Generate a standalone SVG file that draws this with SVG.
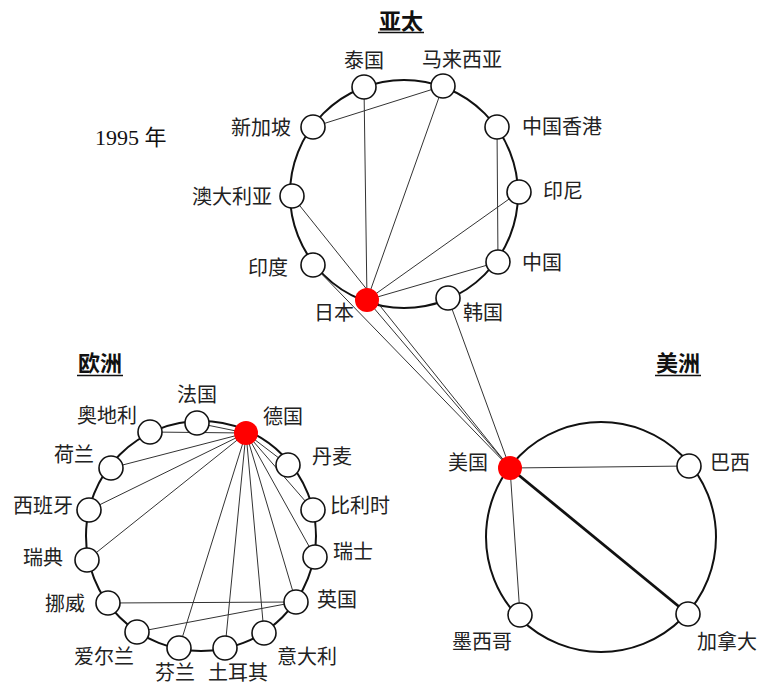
<svg xmlns="http://www.w3.org/2000/svg" width="759" height="688" viewBox="0 0 759 688">
<style>
.ring{fill:none;stroke:#111;stroke-width:2}
.e{stroke:#333;stroke-width:1;fill:none}
.thick{stroke:#111;stroke-width:2.8}
.n{fill:#fff;stroke:#111;stroke-width:1.6}
.hub{fill:#ff0000;stroke:none}
.lbl{font-family:"Noto Sans CJK SC","Noto Sans",sans-serif;font-size:20px;fill:#222;text-anchor:middle}
.title{font-family:"Noto Sans CJK SC","Noto Sans",sans-serif;font-size:22px;font-weight:bold;fill:#111;text-anchor:middle}
.ul{stroke:#111;stroke-width:1.4}
.year{font-family:"Liberation Serif","Noto Sans CJK SC",serif;font-size:22px;fill:#111}
</style>
<rect width="759" height="688" fill="#fff"/>
<g id="rings">
<circle class="ring" cx="404" cy="194" r="114"/>
<circle class="ring" cx="201" cy="536" r="115"/>
<circle class="ring" cx="601" cy="537" r="115"/>
</g>
<g id="titles">
<text class="title" x="401" y="29">亚太</text><line class="ul" x1="378" y1="32.5" x2="424" y2="32.5"/>
<text class="title" x="100" y="371">欧洲</text><line class="ul" x1="77" y1="375.5" x2="123" y2="375.5"/>
<text class="title" x="678" y="371">美洲</text><line class="ul" x1="655" y1="375.5" x2="701" y2="375.5"/>
<text class="year" x="95" y="145">1995 年</text>
</g>
<g id="connectors">
<line class="e" x1="364" y1="87" x2="367" y2="300"/>
<line class="e" x1="443" y1="86" x2="313" y2="127"/>
<line class="e" x1="443" y1="86" x2="367" y2="300"/>
<line class="e" x1="497" y1="127" x2="498" y2="262"/>
<line class="e" x1="519" y1="192" x2="367" y2="300"/>
<line class="e" x1="498" y1="262" x2="367" y2="300"/>
<line class="e" x1="292" y1="196" x2="510" y2="468"/>
<line class="e" x1="313" y1="265" x2="510" y2="468"/>
<line class="e" x1="367" y1="300" x2="510" y2="468"/>
<line class="e" x1="448" y1="298" x2="510" y2="468"/>
<line class="e" x1="510" y1="468" x2="689" y2="466"/>
<line class="e" x1="510" y1="468" x2="520" y2="615"/>
<line class="e thick" x1="510" y1="468" x2="688" y2="614"/>
<line class="e" x1="246" y1="433" x2="197" y2="423"/>
<line class="e" x1="246" y1="433" x2="150" y2="432"/>
<line class="e" x1="246" y1="433" x2="111" y2="468"/>
<line class="e" x1="246" y1="433" x2="89" y2="510"/>
<line class="e" x1="246" y1="433" x2="87" y2="560"/>
<line class="e" x1="246" y1="433" x2="288" y2="465"/>
<line class="e" x1="246" y1="433" x2="313" y2="510"/>
<line class="e" x1="246" y1="433" x2="315" y2="557"/>
<line class="e" x1="246" y1="433" x2="296" y2="602"/>
<line class="e" x1="246" y1="433" x2="264" y2="633"/>
<line class="e" x1="246" y1="433" x2="225" y2="648"/>
<line class="e" x1="246" y1="433" x2="179" y2="648"/>
<line class="e" x1="108" y1="603" x2="296" y2="602"/>
<line class="e" x1="137" y1="632" x2="296" y2="602"/>
</g>
<g id="n-th"><circle class="n" cx="364" cy="87" r="12"/><text class="lbl" x="364" y="68">泰国</text></g>
<g id="n-my"><circle class="n" cx="443" cy="86" r="12"/><text class="lbl" x="462" y="67">马来西亚</text></g>
<g id="n-sg"><circle class="n" cx="313" cy="127" r="12"/><text class="lbl" x="261" y="135">新加坡</text></g>
<g id="n-hk"><circle class="n" cx="497" cy="127" r="12"/><text class="lbl" x="562" y="134">中国香港</text></g>
<g id="n-au"><circle class="n" cx="292" cy="196" r="12"/><text class="lbl" x="232" y="204">澳大利亚</text></g>
<g id="n-id"><circle class="n" cx="519" cy="192" r="12"/><text class="lbl" x="563" y="198">印尼</text></g>
<g id="n-in"><circle class="n" cx="313" cy="265" r="12"/><text class="lbl" x="268" y="275">印度</text></g>
<g id="n-cn"><circle class="n" cx="498" cy="262" r="12"/><text class="lbl" x="542" y="270">中国</text></g>
<g id="n-jp"><circle class="hub" cx="367" cy="300" r="12"/><text class="lbl" x="334" y="320">日本</text></g>
<g id="n-kr"><circle class="n" cx="448" cy="298" r="12"/><text class="lbl" x="483" y="320">韩国</text></g>
<g id="n-us"><circle class="hub" cx="510" cy="468" r="12"/><text class="lbl" x="468" y="470">美国</text></g>
<g id="n-br"><circle class="n" cx="689" cy="466" r="12"/><text class="lbl" x="730" y="470">巴西</text></g>
<g id="n-mx"><circle class="n" cx="520" cy="615" r="12"/><text class="lbl" x="482" y="649">墨西哥</text></g>
<g id="n-ca"><circle class="n" cx="688" cy="614" r="12"/><text class="lbl" x="727" y="649">加拿大</text></g>
<g id="n-fr"><circle class="n" cx="197" cy="423" r="12"/><text class="lbl" x="197" y="402">法国</text></g>
<g id="n-de"><circle class="hub" cx="246" cy="433" r="12"/><text class="lbl" x="283" y="424">德国</text></g>
<g id="n-at"><circle class="n" cx="150" cy="432" r="12"/><text class="lbl" x="107" y="423">奥地利</text></g>
<g id="n-nl"><circle class="n" cx="111" cy="468" r="12"/><text class="lbl" x="74" y="462">荷兰</text></g>
<g id="n-dk"><circle class="n" cx="288" cy="465" r="12"/><text class="lbl" x="332" y="464">丹麦</text></g>
<g id="n-es"><circle class="n" cx="89" cy="510" r="12"/><text class="lbl" x="43" y="513">西班牙</text></g>
<g id="n-be"><circle class="n" cx="313" cy="510" r="12"/><text class="lbl" x="360" y="513">比利时</text></g>
<g id="n-se"><circle class="n" cx="87" cy="560" r="12"/><text class="lbl" x="43" y="565">瑞典</text></g>
<g id="n-ch"><circle class="n" cx="315" cy="557" r="12"/><text class="lbl" x="353" y="559">瑞士</text></g>
<g id="n-no"><circle class="n" cx="108" cy="603" r="12"/><text class="lbl" x="65" y="611">挪威</text></g>
<g id="n-uk"><circle class="n" cx="296" cy="602" r="12"/><text class="lbl" x="337" y="607">英国</text></g>
<g id="n-ie"><circle class="n" cx="137" cy="632" r="12"/><text class="lbl" x="104" y="664">爱尔兰</text></g>
<g id="n-fi"><circle class="n" cx="179" cy="648" r="12"/><text class="lbl" x="175" y="680">芬兰</text></g>
<g id="n-tr"><circle class="n" cx="225" cy="648" r="12"/><text class="lbl" x="238" y="680">土耳其</text></g>
<g id="n-it"><circle class="n" cx="264" cy="633" r="12"/><text class="lbl" x="307" y="664">意大利</text></g>
</svg>
